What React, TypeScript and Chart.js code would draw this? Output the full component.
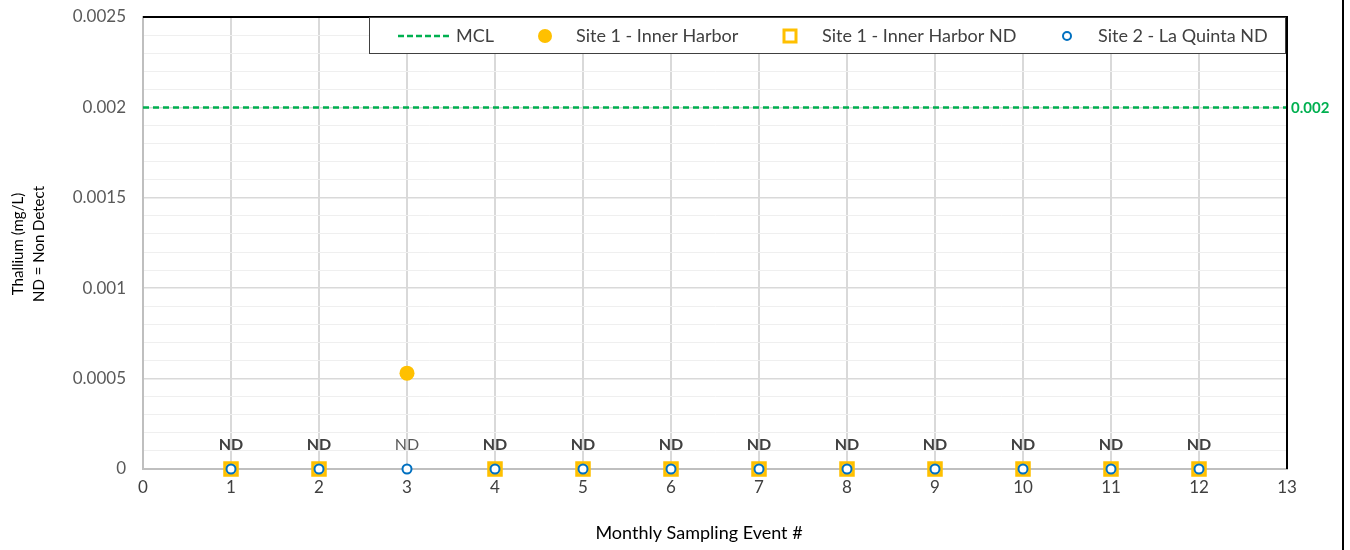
import React, { useEffect, useRef } from "react";
import { Chart, registerables } from "chart.js";

Chart.register(...registerables);

const events = [1, 2, 3, 4, 5, 6, 7, 8, 9, 10, 11, 12];
const mclValue = 0.002;
const mclRange = [0, 13];
const site1DetectEvents = [3];
const site1DetectValues = [0.00053];
const site1NDEvents = [1, 2, 4, 5, 6, 7, 8, 9, 10, 11, 12];
const site1NDValues = [0, 0, 0, 0, 0, 0, 0, 0, 0, 0, 0];
const site2NDEvents = [1, 2, 3, 4, 5, 6, 7, 8, 9, 10, 11, 12];
const site2NDValues = [0, 0, 0, 0, 0, 0, 0, 0, 0, 0, 0, 0];
const yTickLabels = ["0", "0.0005", "0.001", "0.0015", "0.002", "0.0025"];
const ndLabelEvents = events;
const ndLightEvents = [3];

const FONT = "Lato, 'Open Sans', sans-serif";
const GREEN = "#00B050";
const ORANGE = "#FFC000";
const BLUE = "#0070C0";
const TEXT = "#404040";

const pts = (xs: number[], ys: number[]) => xs.map((x, i) => ({ x, y: ys[i] }));

export default function App() {
  const ref = useRef<HTMLCanvasElement | null>(null);

  useEffect(() => {
    if (!ref.current) return;

    const decor = {
      id: "decor",
      afterDraw(chart: any) {
        const { ctx, chartArea: a, scales } = chart;
        const xs = scales.x;
        const ys = scales.y;
        ctx.save();
        ctx.strokeStyle = "#000";
        ctx.lineWidth = 2;
        ctx.beginPath();
        ctx.moveTo(a.left, a.top);
        ctx.lineTo(a.right, a.top);
        ctx.lineTo(a.right, a.bottom);
        ctx.stroke();
        ctx.beginPath();
        ctx.moveTo(1343, 0);
        ctx.lineTo(1343, 550);
        ctx.stroke();

        ctx.textAlign = "center";
        ctx.textBaseline = "middle";
        ndLabelEvents.forEach((e) => {
          const light = ndLightEvents.includes(e);
          ctx.font = `${light ? "normal" : "bold"} 16px ${FONT}`;
          ctx.fillStyle = light ? "#595959" : TEXT;
          ctx.fillText("ND", xs.getPixelForValue(e), ys.getPixelForValue(0) - 24);
        });

        ctx.font = `bold 15px ${FONT}`;
        ctx.fillStyle = GREEN;
        ctx.textAlign = "left";
        ctx.fillText(mclValue.toString(), a.right + 4, ys.getPixelForValue(mclValue) + 1);

        ctx.fillStyle = "#000";
        ctx.font = `18px ${FONT}`;
        ctx.textAlign = "center";
        ctx.fillText("Monthly Sampling Event #", 699, 533);
        ctx.save();
        ctx.translate(18, 244);
        ctx.rotate(-Math.PI / 2);
        ctx.font = `15px ${FONT}`;
        ctx.fillText("Thallium (mg/L)", 0, 0);
        ctx.fillText("ND = Non Detect", 0, 21);
        ctx.restore();

        const lx = 369, ly = 17, lw = 916, lh = 36;
        ctx.fillStyle = "#fff";
        ctx.fillRect(lx, ly, lw, lh);
        ctx.strokeStyle = "#404040";
        ctx.lineWidth = 1;
        ctx.strokeRect(lx + 0.5, ly + 0.5, lw, lh);
        const cy = ly + lh / 2 + 1;
        ctx.font = `18px ${FONT}`;
        ctx.fillStyle = TEXT;
        ctx.textAlign = "left";
        ctx.textBaseline = "middle";
        ctx.strokeStyle = GREEN;
        ctx.lineWidth = 2.5;
        ctx.setLineDash([6, 3]);
        ctx.beginPath();
        ctx.moveTo(398, cy);
        ctx.lineTo(452, cy);
        ctx.stroke();
        ctx.setLineDash([]);
        ctx.fillText(chart.data.datasets[0].label, 456, cy);
        ctx.fillStyle = ORANGE;
        ctx.beginPath();
        ctx.arc(545, cy, 7, 0, Math.PI * 2);
        ctx.fill();
        ctx.fillStyle = TEXT;
        ctx.fillText(chart.data.datasets[1].label, 576, cy);
        ctx.fillStyle = "#fff";
        ctx.strokeStyle = ORANGE;
        ctx.lineWidth = 3;
        ctx.fillRect(784, cy - 6, 12, 12);
        ctx.strokeRect(784, cy - 6, 12, 12);
        ctx.fillStyle = TEXT;
        ctx.fillText(chart.data.datasets[2].label, 822, cy);
        ctx.strokeStyle = BLUE;
        ctx.lineWidth = 2;
        ctx.fillStyle = "#fff";
        ctx.beginPath();
        ctx.arc(1067, cy, 4, 0, Math.PI * 2);
        ctx.fill();
        ctx.stroke();
        ctx.fillStyle = TEXT;
        ctx.fillText(chart.data.datasets[3].label, 1098, cy);
        ctx.restore();
      },
    };

    const chart = new Chart(ref.current, {
      type: "scatter",
      data: {
        datasets: [
          {
            label: "MCL",
            type: "line",
            data: pts(mclRange, [mclValue, mclValue]),
            borderColor: GREEN,
            borderWidth: 2.5,
            borderDash: [6, 4],
            pointRadius: 0,
            fill: false,
            order: 4,
          } as any,
          {
            label: "Site 1 - Inner Harbor",
            data: pts(site1DetectEvents, site1DetectValues),
            pointStyle: "circle",
            pointRadius: 7.5,
            backgroundColor: ORANGE,
            borderColor: ORANGE,
            borderWidth: 0,
            clip: false,
            order: 1,
          } as any,
          {
            label: "Site 1 - Inner Harbor ND",
            data: pts(site1NDEvents, site1NDValues),
            pointStyle: "rect",
            pointRadius: 8.5,
            backgroundColor: "#fff",
            borderColor: ORANGE,
            borderWidth: 3.5,
            clip: false,
            order: 3,
          } as any,
          {
            label: "Site 2 - La Quinta ND",
            data: pts(site2NDEvents, site2NDValues),
            pointStyle: "circle",
            pointRadius: 4.5,
            backgroundColor: "#fff",
            borderColor: BLUE,
            borderWidth: 2,
            clip: false,
            order: 2,
          } as any,
        ],
      },
      options: {
        animation: false,
        responsive: false,
        maintainAspectRatio: false,
        layout: { padding: { top: 17, right: 63, left: 0, bottom: 0 } },
        plugins: {
          legend: { display: false },
          tooltip: { enabled: false },
        },
        scales: {
          x: {
            type: "linear",
            min: 0,
            max: 13,
            ticks: {
              stepSize: 1,
              color: TEXT,
              font: { family: FONT, size: 17 },
              padding: 8,
            },
            grid: {
              color: (c: any) => (c.tick && c.tick.value === 0 ? "rgba(0,0,0,0)" : "#d9d9d9"),
              lineWidth: 2,
              drawTicks: false,
            },
            border: { color: "#bfbfbf", width: 2 },
            afterFit: (s: any) => {
              s.height = 81;
              s.paddingLeft = 0;
              s.paddingRight = 0;
            },
          },
          y: {
            type: "linear",
            min: 0,
            max: 0.0025,
            afterBuildTicks: (s: any) => {
              const t = [];
              for (let i = 0; i <= 25; i++) t.push({ value: i * 0.0001 });
              s.ticks = t;
            },
            ticks: {
              color: "#595959",
              font: { family: FONT, size: 17 },
              padding: 17,
              autoSkip: false,
              callback: (v: any, i: number) => (i % 5 === 0 ? yTickLabels[i / 5] : ""),
            },
            grid: {
              color: (c: any) => (c.index % 5 === 0 ? "#d9d9d9" : "#efefef"),
              lineWidth: (c: any) => (c.index % 5 === 0 ? 1.5 : 1),
              drawTicks: false,
            },
            border: { color: "#bfbfbf", width: 2 },
            afterFit: (s: any) => {
              s.width = 143;
              s.paddingTop = 0;
              s.paddingBottom = 0;
            },
          },
        },
      },
      plugins: [decor],
    });
    return () => chart.destroy();
  }, []);

  return (
    <div style={{ position: "fixed", left: 0, top: 0, width: 1350, height: 550, background: "#fff" }}>
      <canvas ref={ref} width={1350} height={550} style={{ width: 1350, height: 550 }} />
    </div>
  );
}
